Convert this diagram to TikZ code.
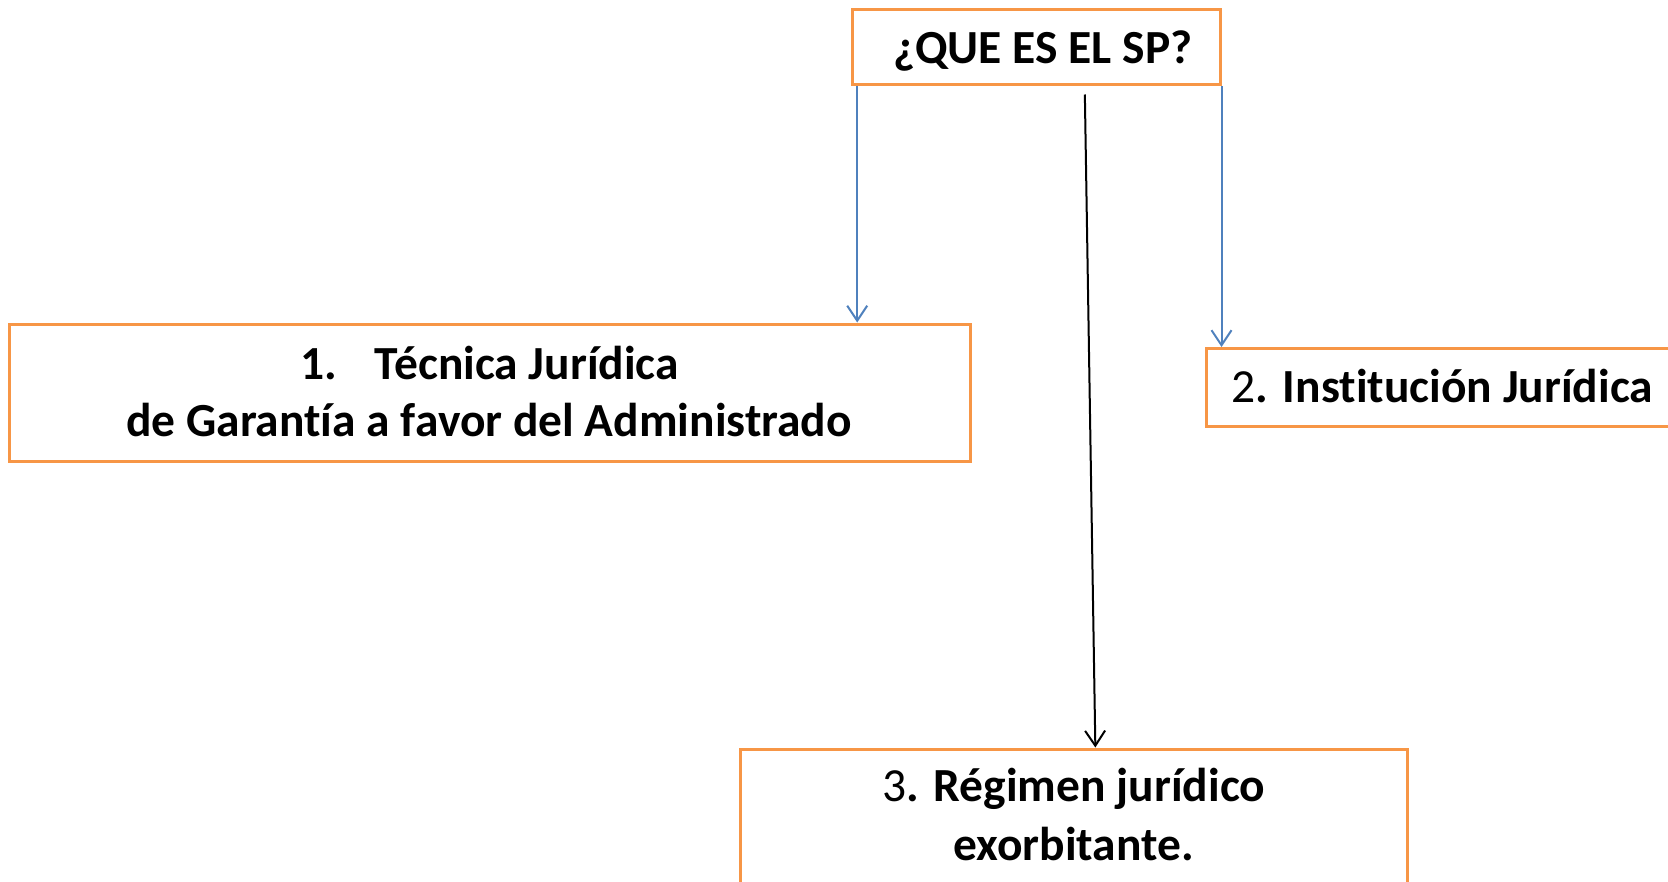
\documentclass[tikz,border=0pt]{standalone}
\usepackage{fontspec}
\setmainfont[Ligatures=NoCommon]{Carlito}
\usetikzlibrary{arrows.meta}
\definecolor{boxorange}{RGB}{247,150,70}
\definecolor{lineblue}{RGB}{79,129,189}
\tikzset{
  box/.style={draw=boxorange, line width=3pt, fill=white, rectangle, inner sep=0pt},
  lbl/.style={inner sep=0pt, font=\fontsize{47.5}{57}\selectfont\bfseries},
  bluearrow/.style={draw=lineblue, line width=2pt, -{Straight Barb[length=15pt,width=20pt]}},
  blackarrow/.style={draw=black, line width=2pt, -{Straight Barb[length=15pt,width=20pt]}}
}
\begin{document}
\begin{tikzpicture}[x=1pt,y=-1pt]
\useasboundingbox (0,0) rectangle (1668,881);
\clip (0,0) rectangle (1668,881);
\fill[white] (0,0) rectangle (1668,881);
% boxes
\node[box, minimum width=367.3pt, minimum height=75.5pt] (top) at (1036.35,46.75) {};
\node[box, minimum width=960.6pt, minimum height=137pt] (b1) at (489.7,392.5) {};
\node[box, minimum width=493.3pt, minimum height=78.2pt] (b2) at (1453.35,387.6) {};
\node[box, minimum width=667.7pt, minimum height=151pt] (b3) at (1073.85,824.5) {};
% texts
\node[lbl, anchor=base west] (t0) at (893,63) {¿QUE ES EL SP?};
\node[lbl, anchor=base] (t1a) at (489.5,379) {1.\hspace{38pt}Técnica Jurídica};
\node[lbl, anchor=base] (t1b) at (489,436) {de Garantía a favor del Administrado};
\node[lbl, anchor=base west] (t2) at (1231.7,402.7) {\mdseries 2\bfseries. Institución Jurídica};
\node[lbl, anchor=base] (t3a) at (1074,801.7) {\mdseries 3\bfseries. Régimen jurídico};
\node[lbl, anchor=base] (t3b) at (1073.5,860) {exorbitante.};
% connectors
\draw[bluearrow] ([xshift=6pt]top.south west) -- ([xshift=6pt]top.south west |- b1.north);
\draw[bluearrow] (top.south east) -- (top.south east |- b2.north);
\draw[blackarrow] ([xshift=48.5pt,yshift=-8.5pt]top.south) -- ([xshift=21.5pt]b3.north);
\end{tikzpicture}
\end{document}
